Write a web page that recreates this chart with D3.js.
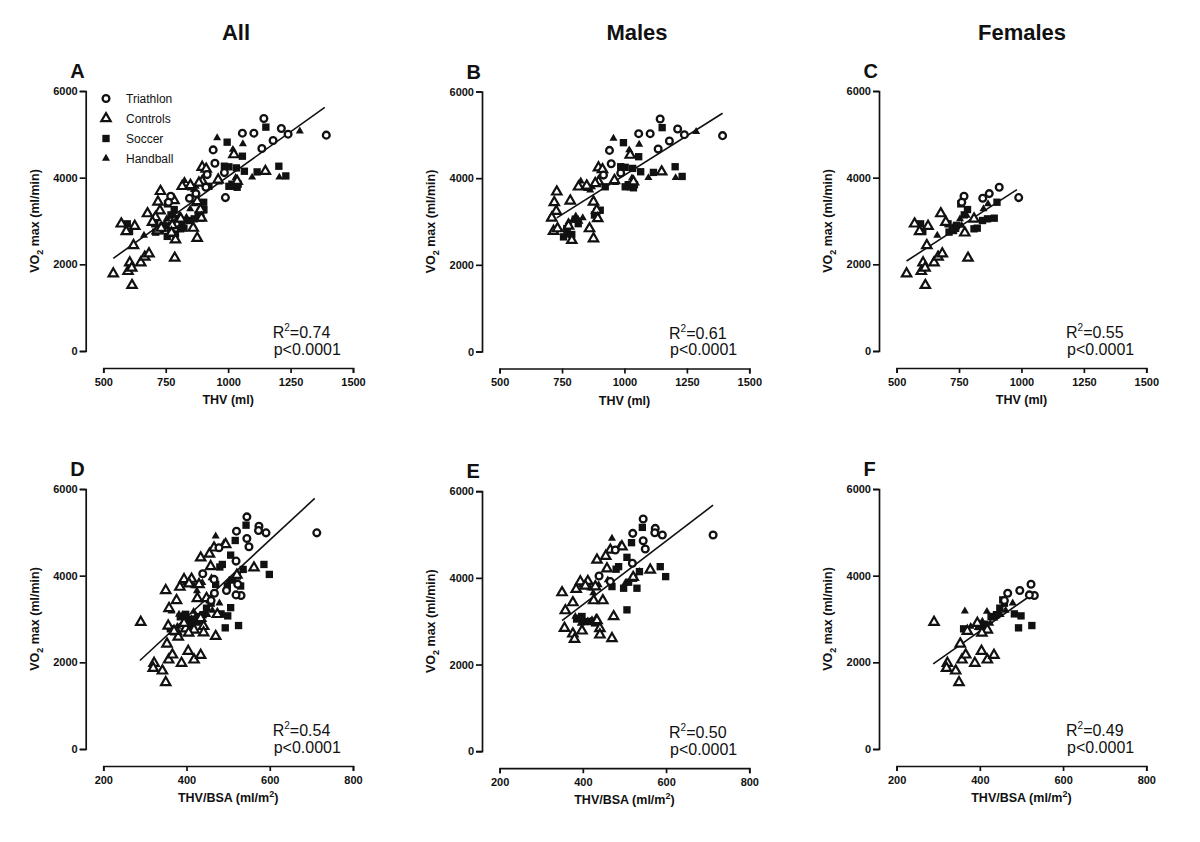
<!DOCTYPE html>
<html><head><meta charset="utf-8">
<script src="https://cdn.jsdelivr.net/npm/d3@7"></script>
<style>body{margin:0;background:#fff}svg{display:block;font-family:"Liberation Sans",Arial,sans-serif}</style>
</head><body><svg id="c" width="1200" height="842"></svg>
<script>
// ---------- DATA ----------
const groups = ["Triathlon", "Controls", "Soccer", "Handball"];
const columnTitles = ["All", "Males", "Females"];
const panelLetters = ["A", "B", "C", "D", "E", "F"];
const thvTicks = [500, 750, 1000, 1250, 1500];
const bsaTicks = [200, 400, 600, 800];
const yTicks = [0, 2000, 4000, 6000];
const r2Labels = ["0.74", "0.61", "0.55", "0.54", "0.50", "0.49"];
const pLabel = "p<0.0001";
// regression line: intercept, slope, x start, x end
const fitIntercepts = [-84, 435, 65, -522, 448, 26];
const fitSlopes = [4.115, 3.634, 3.726, 8.905, 7.336, 6.737];
const fitX0 = [540, 729, 540, 288, 350, 288];
const fitX1 = [1387, 1393, 982, 708, 713, 516];

// Males, THV (ml) vs VO2max (ml/min)
const mThvTri = [[1143,5366],[1057,5027],[1103,5027],[1213,5135],[1240,5004],[1180,4857],[1135,4672],[1393,4981],[940,4641],[947,4333],[916,4071],[985,4117]];
const mThvCon = [[729,3685],[719,3439],[727,3238],[709,3084],[716,2776],[732,2837],[783,3477],[776,2899],[789,2567],[860,2837],[876,2606],[896,3917],[883,3878],[876,3454],[889,3261],[893,3069],[896,4241],[816,3801],[849,3824],[1023,4534],[1036,3917],[1149,4148],[912,4200],[960,3950]];
const mThvSoc = [[1151,5166],[996,4819],[1057,4495],[985,4264],[1003,4250],[1033,4225],[1065,4148],[1116,4133],[1203,4264],[1231,4040],[1023,3801],[1003,3801],[1036,3778],[923,3801],[903,3261],[889,3223],[803,3053],[769,2837],[756,2645],[789,2700],[1015,3850],[1040,3850],[770,2760],[815,2950],[880,3150]];
const mThvHan = [[956,4919],[1059,4780],[1019,4649],[1287,5073],[1096,4009],[1205,4009],[825,3932],[841,3801],[863,3724],[963,3894],[805,3123],[833,3084],[703,3084],[763,2683],[793,3030],[776,2992],[1030,4000],[850,3760],[820,3000],[870,3800]];
// Females, THV
const fThvTri = [[770,3571],[845,3525],[871,3632],[911,3778],[989,3540],[761,3433]];
const fThvCon = [[572,2935],[626,2881],[621,2437],[540,1785],[606,2038],[599,1839],[614,1916],[615,1517],[650,2038],[666,2169],[683,2245],[786,2146],[677,3172],[697,2973],[773,2728],[810,3050],[592,2760]];
const fThvSoc = [[757,3395],[784,3264],[771,3142],[706,2935],[723,2835],[737,2858],[710,2743],[810,2820],[823,2835],[844,3011],[864,3050],[891,3065],[902,3433],[596,2935],[605,2760],[740,2900],[728,2780]];
const fThvHan = [[677,3188],[663,2667],[754,3050],[781,3126],[848,3280],[866,3395],[810,3050],[700,2950],[736,2800],[760,2900]];
// Males, THV/BSA (ml/m2)
const mBsaTri = [[545,5357],[520,5027],[574,5142],[573,5042],[591,4988],[545,4858],[550,4666],[478,4643],[519,4336],[439,4044],[466,3914],[713,4988]];
const mBsaCon = [[350,3661],[358,3246],[376,3430],[384,3737],[394,3914],[356,2840],[376,2709],[380,2586],[398,2778],[434,4413],[466,4643],[458,4213],[426,3477],[448,3477],[434,3016],[441,2832],[441,2686],[470,2602],[474,3108],[412,3922],[521,4014],[562,4183],[494,4720],[406,3814],[430,3799],[455,4500]];
const mBsaSoc = [[543,5165],[517,4812],[506,4474],[486,4259],[522,3991],[536,4144],[586,4259],[599,4029],[470,3799],[498,3761],[530,3761],[506,3262],[398,3108],[418,2993],[480,4200],[510,3900],[385,3050],[405,2990],[428,2960]];
const mBsaHan = [[470,4912],[490,4758],[398,3837],[418,3761],[418,2993],[502,3876],[536,4144],[561,4167],[382,3108],[390,3093],[398,3070],[422,3031],[438,3837],[425,3650],[460,3950],[395,2950],[412,3000],[432,3080]];
// Females, THV/BSA
const fBsaTri = [[523,3802],[531,3541],[519,3556],[496,3656],[467,3594],[459,3425]];
const fBsaCon = [[290,2926],[322,1982],[320,1866],[342,1805],[350,1536],[353,2427],[357,2058],[366,2174],[388,1982],[404,2258],[418,2058],[434,2166],[370,2719],[394,2903],[418,2750],[405,2680]];
const fBsaSoc = [[361,2773],[455,3441],[459,3364],[483,3118],[499,3072],[493,2796],[525,2849],[398,2826],[427,3057],[440,3100],[412,2880],[448,3250]];
const fBsaHan = [[364,3180],[417,3172],[378,2826],[406,2942],[435,3018],[479,3364],[395,2800],[450,3100],[410,2750],[400,2880],[425,2900],[462,3200]];

// ---------- ASSEMBLY ----------
const maleThv = [mThvTri, mThvCon, mThvSoc, mThvHan];
const femaleThv = [fThvTri, fThvCon, fThvSoc, fThvHan];
const maleBsa = [mBsaTri, mBsaCon, mBsaSoc, mBsaHan];
const femaleBsa = [fBsaTri, fBsaCon, fBsaSoc, fBsaHan];
const allThv = maleThv.map((g, i) => g.concat(femaleThv[i]));
const allBsa = maleBsa.map((g, i) => g.concat(femaleBsa[i]));
const panelData = [allThv, maleThv, femaleThv, allBsa, maleBsa, femaleBsa];

// ---------- LAYOUT ----------
const svg = d3.select("#c");
const colAxisX = [85.7, 482, 879];
const rowTop = [91, 489];
const plotH = 260;
const yShift = [0, 0.5, 0, 0, 2.2, 0];
const titleX = [236, 637, 1022];
const ink = "#111";

columnTitles.forEach((t, i) => {
  svg.append("text").attr("x", titleX[i]).attr("y", 40).attr("text-anchor", "middle")
    .attr("font-size", 22).attr("font-weight", "bold").attr("fill", ink).text(t);
});

// symbol generators
const sym = [
  {type: d3.symbolCircle, size: 36, fill: "#fff", stroke: ink, sw: 2.3},
  {type: d3.symbolTriangle, size: 38, fill: "#fff", stroke: ink, sw: 2.2},
  {type: d3.symbolSquare, size: 54, fill: ink, stroke: "none", sw: 0},
  {type: d3.symbolTriangle, size: 28, fill: ink, stroke: "none", sw: 0}
];
const drawOrder = [2, 3, 1, 0];

panelData.forEach((data, p) => {
  const col = p % 3, row = Math.floor(p / 3);
  const ax = colAxisX[col];
  const top = rowTop[row] + yShift[p];
  const y0 = top + plotH;
  const isThv = row === 0;
  const xDom = isThv ? [500, 1500] : [200, 800];
  const x = d3.scaleLinear().domain(xDom).range([ax + 17.6, ax + 267.3]);
  const y = d3.scaleLinear().domain([0, 6000]).range([y0, top]);
  const g = svg.append("g");

  const yAxis = g.append("g").attr("transform", `translate(${ax},0)`)
    .call(d3.axisLeft(y).tickValues(yTicks).tickFormat(d3.format("d")).tickSize(6).tickPadding(2));
  const xAxis = g.append("g").attr("transform", `translate(0,${y0 + 17})`)
    .call(d3.axisBottom(x).tickValues(isThv ? thvTicks : bsaTicks).tickFormat(d3.format("d")).tickSize(5).tickPadding(5));
  [yAxis, xAxis].forEach(a => {
    a.select(".domain").attr("stroke", ink).attr("stroke-width", 1.7);
    a.selectAll(".tick line").attr("stroke", ink).attr("stroke-width", 1.7);
    a.selectAll(".tick text").attr("font-size", 11).attr("font-weight", "bold").attr("fill", ink)
      .attr("font-family", '"Liberation Sans",Arial,sans-serif');
  });

  g.append("text").attr("x", ax - 15.5).attr("y", top - 13).attr("font-size", 20).attr("font-weight", "bold")
    .attr("fill", ink).text(panelLetters[p]);

  const yl = g.append("text").attr("transform", `translate(${ax - 47},${(top + y0) / 2}) rotate(-90)`)
    .attr("text-anchor", "middle").attr("font-size", 12.5).attr("font-weight", "bold").attr("fill", ink);
  yl.append("tspan").text("VO");
  yl.append("tspan").attr("font-size", 9).attr("dy", 4).text("2");
  yl.append("tspan").attr("dy", -4).text(" max (ml/min)");

  const xl = g.append("text").attr("x", (x.range()[0] + x.range()[1]) / 2).attr("y", y0 + 53)
    .attr("text-anchor", "middle").attr("font-size", 12.5).attr("font-weight", "bold").attr("fill", ink);
  if (isThv) xl.text("THV (ml)");
  else {
    xl.append("tspan").text("THV/BSA (ml/m");
    xl.append("tspan").attr("font-size", 9).attr("dy", -5).text("2");
    xl.append("tspan").attr("dy", 5).text(")");
  }

  g.append("line")
    .attr("x1", x(fitX0[p])).attr("y1", y(fitIntercepts[p] + fitSlopes[p] * fitX0[p]))
    .attr("x2", x(fitX1[p])).attr("y2", y(fitIntercepts[p] + fitSlopes[p] * fitX1[p]))
    .attr("stroke", ink).attr("stroke-width", 1.6);

  drawOrder.forEach(gi => {
    const s = sym[gi];
    g.append("g").selectAll("path").data(data[gi]).join("path")
      .attr("d", d3.symbol().type(s.type).size(s.size))
      .attr("transform", d => `translate(${x(d[0])},${y(d[1])})`)
      .attr("fill", s.fill).attr("stroke", s.stroke).attr("stroke-width", s.sw);
  });

  const tx = ax + 187;
  const r2 = g.append("text").attr("x", tx).attr("y", y0 - 13).attr("font-size", 16).attr("fill", ink);
  r2.append("tspan").text("R");
  r2.append("tspan").attr("font-size", 10).attr("dy", -7).text("2");
  r2.append("tspan").attr("dy", 7).text("=" + r2Labels[p]);
  g.append("text").attr("x", tx + 1).attr("y", y0 + 3.5).attr("font-size", 16).attr("fill", ink).text(pLabel);

  if (p === 0) {
    groups.forEach((name, i) => {
      const s = sym[i];
      const cy = 98.5 + i * 20;
      g.append("path").attr("d", d3.symbol().type(s.type).size(s.size)())
        .attr("transform", `translate(106,${cy})`)
        .attr("fill", s.fill).attr("stroke", s.stroke).attr("stroke-width", s.sw);
      g.append("text").attr("x", 126).attr("y", cy + 4.5).attr("font-size", 12).attr("fill", ink).text(name);
    });
  }
});
</script>
</body></html>
